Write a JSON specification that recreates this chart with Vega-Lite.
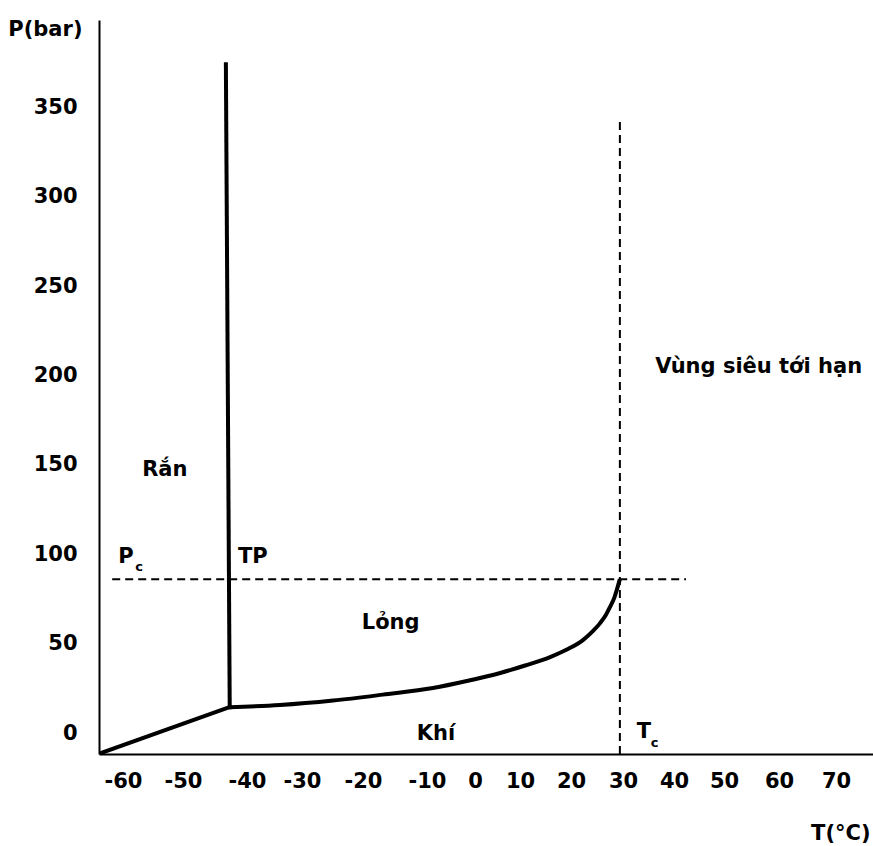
{
  "$schema": "https://vega.github.io/schema/vega-lite/v6.json",
  "autosize": "none",
  "width": 774,
  "height": 734,
  "padding": {"left": 99, "top": 20, "right": 0, "bottom": 92},
  "background": "white",
  "config": {
    "view": {"stroke": null},
    "font": "DejaVu Sans",
    "axis": {"grid": false, "ticks": false, "tickSize": 0, "domainColor": "black", "domainWidth": 2, "labelColor": "black", "titleColor": "black", "labelFont": "DejaVu Sans", "titleFont": "DejaVu Sans", "labelFontSize": 21, "titleFontSize": 21, "labelFontWeight": "bold", "titleFontWeight": "bold"}
  },
  "datasets": {
    "lines": [
      {"line": "sub", "i": 1, "T": -63.5, "P": -11},
      {"line": "sub", "i": 2, "T": -42.7, "P": 14.5},
      {"line": "melt", "i": 1, "T": -42.7, "P": 14.5},
      {"line": "melt", "i": 2, "T": -43.3, "P": 374},
      {"line": "vap", "i": 1, "T": -42.7, "P": 14.5},
      {"line": "vap", "i": 2, "T": -34.0, "P": 15.7},
      {"line": "vap", "i": 3, "T": -24.9, "P": 18.2},
      {"line": "vap", "i": 4, "T": -16.9, "P": 21.5},
      {"line": "vap", "i": 5, "T": -8.75, "P": 25.2},
      {"line": "vap", "i": 6, "T": -1.7, "P": 29.1},
      {"line": "vap", "i": 7, "T": 5.6, "P": 33.6},
      {"line": "vap", "i": 8, "T": 11.0, "P": 37.8},
      {"line": "vap", "i": 9, "T": 15.9, "P": 42.5},
      {"line": "vap", "i": 10, "T": 19.4, "P": 47.0},
      {"line": "vap", "i": 11, "T": 22.3, "P": 52.0},
      {"line": "vap", "i": 12, "T": 24.2, "P": 57.0},
      {"line": "vap", "i": 13, "T": 25.6, "P": 61.5},
      {"line": "vap", "i": 14, "T": 26.7, "P": 66.0},
      {"line": "vap", "i": 15, "T": 27.5, "P": 70.5},
      {"line": "vap", "i": 16, "T": 28.3, "P": 75.5},
      {"line": "vap", "i": 17, "T": 28.8, "P": 80.0},
      {"line": "vap", "i": 18, "T": 29.4, "P": 86.1},
      {"line": "pc", "i": 1, "T": -61.8, "P": 86.1},
      {"line": "pc", "i": 2, "T": 42.4, "P": 86.1},
      {"line": "tc", "i": 1, "T": 29.4, "P": -11.7},
      {"line": "tc", "i": 2, "T": 29.4, "P": 343}
    ],
    "labels": [
      {"kind": "big", "text": "Rắn", "T": -56.8, "P": 147},
      {"kind": "big", "text": "P", "T": -60.8, "P": 98.4},
      {"kind": "small", "text": "c", "T": -57.3, "P": 92.8},
      {"kind": "big", "text": "TP", "T": -41.4, "P": 98.4},
      {"kind": "big", "text": "Lỏng", "T": -20.2, "P": 61.8},
      {"kind": "big", "text": "Khí", "T": -11.6, "P": -0.6},
      {"kind": "big", "text": "T", "T": 32.7, "P": 0.6},
      {"kind": "small", "text": "c", "T": 36.2, "P": -5.6},
      {"kind": "big", "text": "Vùng siêu tới hạn", "T": 36.3, "P": 205}
    ]
  },
  "encoding": {
    "x": {
      "field": "T", "type": "quantitative",
      "scale": {"domain": [-64, -60, -50, -40, -30, -20, -10, 0, 10, 20, 30, 40, 50, 60, 70, 76.5], "range": [0, 24, 84, 148, 203, 264, 328, 376, 421, 472, 524, 575, 625, 680, 737, 774], "nice": false, "zero": false},
      "axis": {"values": [-60, -50, -40, -30, -20, -10, 0, 10, 20, 30, 40, 50, 60, 70], "labelExpr": "'' + datum.value", "labelPadding": 16, "labelBaseline": "top", "title": "T(°C)", "titleAngle": 0, "titleAlign": "right", "titleBaseline": "middle", "titleX": 771, "titleY": 79, "labelFlush": false, "labelOverlap": false}
    },
    "y": {
      "field": "P", "type": "quantitative",
      "scale": {"domain": [-11.7, 398.8], "nice": false, "zero": false},
      "axis": {"values": [0, 50, 100, 150, 200, 250, 300, 350], "labelPadding": 22, "labelAlign": "right", "labelBaseline": "middle", "title": "P(bar)", "titleAngle": 0, "titleAlign": "right", "titleBaseline": "middle", "titleX": -17, "titleY": 9, "labelFlush": false, "labelOverlap": false}
    }
  },
  "layer": [
    {
      "data": {"name": "lines"},
      "transform": [{"filter": "datum.line === 'sub' || datum.line === 'melt'"}],
      "mark": {"type": "line", "color": "black", "strokeWidth": 4, "strokeCap": "square"},
      "encoding": {"detail": {"field": "line"}, "order": {"field": "i"}}
    },
    {
      "data": {"name": "lines"},
      "transform": [{"filter": "datum.line === 'vap'"}],
      "mark": {"type": "line", "color": "black", "strokeWidth": 4, "interpolate": "monotone"},
      "encoding": {"order": {"field": "i"}}
    },
    {
      "data": {"name": "lines"},
      "transform": [{"filter": "datum.line === 'pc' || datum.line === 'tc'"}],
      "mark": {"type": "line", "color": "black", "strokeWidth": 2, "strokeDash": [8, 5]},
      "encoding": {"detail": {"field": "line"}, "order": {"field": "i"}}
    },
    {
      "data": {"name": "labels"},
      "transform": [{"filter": "datum.kind === 'big'"}],
      "mark": {"type": "text", "align": "left", "baseline": "middle", "fontSize": 21, "fontWeight": "bold", "color": "black"},
      "encoding": {"text": {"field": "text"}}
    },
    {
      "data": {"name": "labels"},
      "transform": [{"filter": "datum.kind === 'small'"}],
      "mark": {"type": "text", "align": "center", "baseline": "middle", "fontSize": 13, "fontWeight": "bold", "color": "black"},
      "encoding": {"text": {"field": "text"}}
    }
  ]
}
